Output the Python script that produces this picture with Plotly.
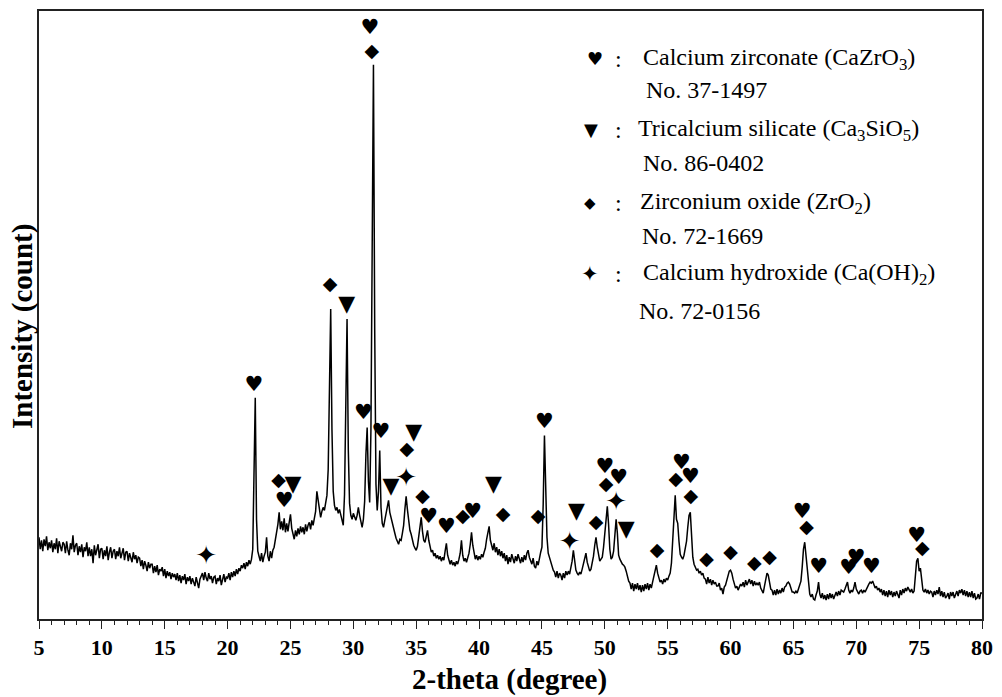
import plotly.graph_objects as go

# ---------------- data ----------------
scan_start = 5.0     # degree
scan_step = 0.1      # degree
# intensity (arbitrary counts), one row per degree: x.0 ... x.9
intensity = [
    82, 70, 79, 68, 80, 73, 83, 69, 77, 71,        # 5
    79, 67, 76, 70, 81, 66, 78, 72, 68, 77,        # 6
    75, 66, 78, 69, 64, 76, 70, 84, 67, 74,        # 7
    76, 64, 73, 67, 75, 62, 72, 68, 77, 63,        # 8
    72, 63, 70, 56, 74, 64, 69, 75, 61, 70,        # 9
    71, 60, 69, 63, 73, 59, 67, 72, 61, 68,        # 10
    70, 60, 68, 63, 72, 61, 66, 71, 59, 67,        # 11
    68, 58, 66, 61, 57, 67, 60, 64, 56, 62,        # 12
    61, 53, 59, 50, 58, 54, 48, 57, 51, 55,        # 13
    55, 46, 53, 47, 54, 44, 50, 48, 52, 43,        # 14
    50, 41, 48, 43, 47, 40, 46, 42, 45, 39,        # 15
    46, 38, 44, 36, 43, 39, 45, 35, 42, 38,        # 16
    43, 35, 41, 37, 33, 42, 36, 31, 40, 44,        # 17
    46, 39, 47, 41, 38, 46, 40, 43, 36, 42,        # 18
    43, 35, 41, 38, 44, 34, 40, 45, 37, 42,        # 19
    41, 46, 39, 47, 42, 48, 43, 50, 45, 51,        # 20
    48, 54, 51, 56, 50, 57, 53, 59, 55, 60,        # 21
    70, 150, 222, 100, 68, 63, 58, 66, 57, 63,     # 22
    67, 82, 63, 58, 68, 61, 69, 72, 79, 86,        # 23
    95, 107, 90, 98, 89, 101, 87, 96, 88, 97,      # 24
    105, 91, 85, 80, 89, 83, 91, 85, 93, 87,       # 25
    92, 85, 95, 88, 94, 97, 90, 99, 94, 103,       # 26
    108, 128, 118, 106, 102, 108, 112, 109, 116, 124,   # 27
    150, 230, 311, 190, 128, 114, 109, 112, 106, 110,   # 28
    104, 100, 94, 125, 235, 301, 170, 116, 104, 100,    # 29
    106, 101, 99, 104, 112, 104, 98, 92, 100, 118,      # 30
    165, 192, 138, 117, 190, 430, 556, 290, 135, 109,   # 31
    128, 169, 112, 96, 92, 99, 106, 114, 119, 107,      # 32
    101, 97, 90, 86, 81, 77, 75, 80, 79, 86,       # 33
    94, 110, 123, 110, 96, 89, 85, 79, 74, 71,     # 34
    69, 73, 82, 93, 102, 88, 79, 77, 83, 89,       # 35
    79, 72, 67, 69, 63, 66, 61, 64, 60, 63,        # 36
    58, 62, 59, 68, 76, 64, 60, 55, 59, 54,        # 37
    57, 53, 58, 55, 60, 66, 79, 64, 58, 61,        # 38
    57, 62, 66, 75, 87, 74, 65, 60, 64, 59,        # 39
    63, 60, 65, 62, 67, 71, 80, 88, 93, 79,        # 40
    75, 69, 76, 67, 72, 64, 70, 63, 68, 61,        # 41
    66, 58, 64, 55, 62, 57, 65, 59, 56, 63,        # 42
    58, 65, 59, 56, 62, 57, 64, 59, 66, 69,        # 43
    62, 57, 55, 61, 53, 51, 58, 54, 62, 67,        # 44
    72, 115, 184, 135, 82, 66, 62, 57, 52, 49,     # 45
    47, 42, 48, 41, 46, 44, 39, 46, 41, 48,        # 46
    44, 48, 45, 50, 58, 69, 56, 49, 46, 44,        # 47
    47, 45, 50, 56, 62, 66, 57, 51, 48, 50,        # 48
    55, 63, 74, 82, 72, 63, 58, 60, 62, 72,        # 49
    88, 105, 113, 95, 70, 60, 62, 68, 85, 100,     # 50
    86, 64, 60, 57, 55, 54, 52, 48, 42, 38,        # 51
    36, 30, 36, 28, 35, 30, 36, 29, 34, 27,        # 52
    34, 28, 35, 30, 36, 29, 35, 31, 37, 42,        # 53
    48, 54, 46, 40, 37, 39, 35, 40, 37, 41,        # 54
    39, 43, 46, 56, 78, 108, 124, 100, 96, 78,     # 55
    65, 62, 60, 64, 70, 78, 92, 104, 107, 78,      # 56
    62, 55, 52, 49, 50, 46, 48, 44, 46, 41,        # 57
    40, 35, 42, 36, 40, 34, 39, 35, 37, 33,        # 58
    33, 36, 29, 31, 25, 32, 34, 38, 44, 48,        # 59
    49, 46, 40, 35, 31, 33, 29, 32, 35, 33,        # 60
    37, 32, 39, 34, 38, 40, 35, 39, 33, 38,        # 61
    34, 36, 34, 37, 31, 28, 26, 33, 40, 46,        # 62
    44, 36, 30, 29, 24, 29, 24, 30, 25, 29,        # 63
    26, 31, 27, 32, 33, 36, 37, 35, 31, 27,        # 64
    27, 26, 28, 26, 30, 34, 38, 52, 70, 77,        # 65
    62, 48, 32, 25, 22, 25, 20, 19, 24, 28,        # 66
    37, 25, 21, 26, 20, 24, 19, 25, 20, 26,        # 67
    21, 25, 20, 24, 27, 23, 28, 24, 29, 28,        # 68
    27, 30, 33, 37, 29, 26, 29, 27, 31, 37,        # 69
    30, 27, 25, 28, 29, 26, 29, 27, 30, 33,        # 70
    35, 37, 36, 38, 34, 31, 33, 29, 31, 27,        # 71
    30, 24, 29, 23, 28, 22, 29, 24, 28, 22,        # 72
    27, 23, 28, 25, 21, 29, 24, 30, 26, 31,        # 73
    28, 32, 29, 27, 30, 26, 28, 40, 58, 61,        # 74
    48, 51, 38, 29, 27, 30, 26, 29, 25, 28,        # 75
    27, 22, 28, 24, 29, 25, 32, 23, 28, 22,        # 76
    27, 21, 23, 26, 20, 27, 23, 27, 21, 26,        # 77
    28, 23, 29, 26, 30, 24, 29, 23, 28, 22,        # 78
    27, 22, 28, 21, 26, 20, 21, 25, 20, 26,        # 79
    26,                                            # 80
]
two_theta = [round(scan_start + i * scan_step, 2) for i in range(len(intensity))]

# phase identification marks (2-theta, height of the mark)
cazro3_x = [22.1, 24.5, 30.8, 31.32, 32.2, 36.0, 37.4, 39.5, 45.2, 50.0, 51.1,
            56.1, 56.8, 65.7, 67.0, 69.4, 70.0, 71.2, 74.8]
cazro3_y = [234, 118, 206, 592, 187, 102, 92, 107, 197, 152, 141,
            156, 142, 107, 51, 50, 60, 51, 83]
c3s_x = [25.2, 29.47, 33.0, 34.8, 41.15, 47.75, 51.7]
c3s_y = [134, 315, 132, 186, 134, 107, 89]
zro2_x = [24.05, 28.15, 31.46, 34.25, 35.5, 38.7, 41.9, 44.7, 49.3, 50.1, 54.15,
          55.65, 56.85, 58.1, 60.0, 61.9, 63.1, 66.05, 75.25]
zro2_y = [138, 335, 569, 169, 122, 102, 104, 102, 96, 134, 68,
          139, 122, 59, 66, 55, 61, 91, 70]
caoh2_x = [18.3, 34.2, 47.2, 50.9]
caoh2_y = [62, 140, 76, 116]

x_ticks = [5, 10, 15, 20, 25, 30, 35, 40, 45, 50, 55, 60, 65, 70, 75, 80]

phases = [
    ("\u2665", "Calcium zirconate (CaZrO<sub>3</sub>)", "No. 37-1497"),
    ("\u25BC", "Tricalcium silicate (Ca<sub>3</sub>SiO<sub>5</sub>)", "No. 86-0402"),
    ("\u25C6", "Zirconium oxide (ZrO<sub>2</sub>)", "No. 72-1669"),
    ("\u2726", "Calcium hydroxide (Ca(OH)<sub>2</sub>)", "No. 72-0156"),
]

# ---------------- figure ----------------
W, H = 1002, 697
L, R, T, B = 39, 17, 9, 78
serif = "Liberation Serif"
sym_font = "DejaVu Sans"

fig = go.Figure()
fig.add_trace(go.Scatter(x=two_theta, y=intensity, mode="lines",
                         line=dict(color="black", width=1.5), hoverinfo="skip",
                         showlegend=False))

mark_sets = [
    (cazro3_x, cazro3_y, "\u2665", 21),
    (c3s_x, c3s_y, "\u25BC", 22),
    (zro2_x, zro2_y, "\u25C6", 19),
    (caoh2_x, caoh2_y, "\u2726", 26),
]
for xs, ys, glyph, size in mark_sets:
    fig.add_trace(go.Scatter(x=xs, y=ys, mode="text", text=[glyph] * len(xs),
                             textposition="middle center",
                             textfont=dict(family=sym_font, size=size, color="black"),
                             showlegend=False, hoverinfo="skip"))


def px2paper(px, py):
    return (px - L) / (W - L - R), (H - B - py) / (H - T - B)


annotations = []
legend_rows = [(57, 88), (128, 162), (202, 235), (273, 310)]
sym_x = [597, 593, 592, 592]
sym_size = [18, 18, 15, 21]
text_x = [643, 638, 640, 643]
no_x = [646, 643, 642, 639]
for i, (glyph, name, num) in enumerate(phases):
    py1, py2 = legend_rows[i]
    sx, sy = px2paper(sym_x[i], py1)
    annotations.append(dict(x=sx, y=sy, xref="paper", yref="paper", text=glyph,
                            showarrow=False, xanchor="center", yanchor="middle",
                            font=dict(family=sym_font, size=sym_size[i], color="black")))
    cx, cy = px2paper(620, py1)
    annotations.append(dict(x=cx, y=cy, xref="paper", yref="paper", text=":",
                            showarrow=False, xanchor="center", yanchor="middle",
                            font=dict(family=serif, size=24, color="black")))
    tx, ty = px2paper(text_x[i], py1)
    annotations.append(dict(x=tx, y=ty, xref="paper", yref="paper", text=name,
                            showarrow=False, xanchor="left", yanchor="middle",
                            font=dict(family=serif, size=24, color="black")))
    nx, ny = px2paper(no_x[i], py2)
    annotations.append(dict(x=nx, y=ny, xref="paper", yref="paper", text=num,
                            showarrow=False, xanchor="left", yanchor="middle",
                            font=dict(family=serif, size=24, color="black")))

# axis titles
xt_x, xt_y = px2paper(511, 680)
annotations.append(dict(x=xt_x, y=xt_y, xref="paper", yref="paper",
                        text="<b>2-theta (degree)</b>", showarrow=False,
                        xanchor="center", yanchor="middle",
                        font=dict(family=serif, size=29, color="black")))
yt_x, yt_y = px2paper(23, 326)
annotations.append(dict(x=yt_x, y=yt_y, xref="paper", yref="paper",
                        text="<b>Intensity (count)</b>", showarrow=False,
                        textangle=-90, xanchor="center", yanchor="middle",
                        font=dict(family=serif, size=29, color="black")))

fig.update_layout(
    width=W, height=H,
    margin=dict(l=L, r=R, t=T, b=B, pad=0),
    paper_bgcolor="white", plot_bgcolor="white",
    showlegend=False,
    annotations=annotations,
    xaxis=dict(range=[5, 80], tickmode="array", tickvals=x_ticks,
               ticktext=[str(v) for v in x_ticks],
               ticks="outside", ticklen=8, tickwidth=1.2, tickcolor="#222",
               minor=dict(dtick=1, tick0=5, ticks="outside", ticklen=4,
                          tickwidth=1.2, tickcolor="#222", showgrid=False),
               showline=True, linecolor="#222", linewidth=1.6, mirror=True,
               showgrid=False, zeroline=False, ticklabelstandoff=0,
               tickfont=dict(family=serif, size=22, color="black", weight="bold")),
    yaxis=dict(range=[0, 610], showticklabels=False, ticks="",
               showline=True, linecolor="#222", linewidth=1.6, mirror=True,
               showgrid=False, zeroline=False),
)

fig.write_html("out.html")
